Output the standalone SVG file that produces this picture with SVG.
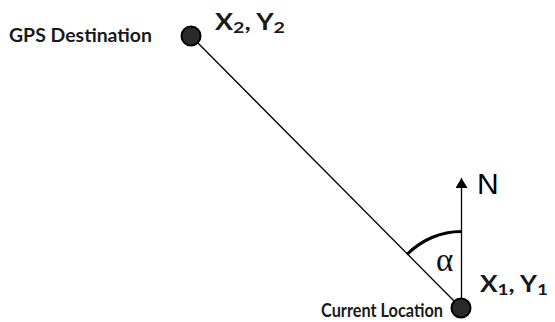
<svg xmlns="http://www.w3.org/2000/svg" width="555" height="322" viewBox="0 0 555 322">
<style>
.lbl{font-family:"Lato","Liberation Sans",sans-serif;font-weight:bold;fill:#1a1a1a}
.pt{fill:#2a2a2a;stroke:#000;stroke-width:2}
.ln{stroke:#000;stroke-width:1.3;fill:none}
</style>
<defs>
<marker id="ah" viewBox="0 0 10 12" refX="10" refY="6" markerWidth="10" markerHeight="12" markerUnits="userSpaceOnUse" orient="auto">
<path d="M0,0 L10,6 L0,12 Z" fill="#000"/>
</marker>
</defs>
<rect width="555" height="322" fill="#fff"/>
<g id="connectors">
<line class="ln" x1="191" y1="36" x2="461" y2="308"/>
<line class="ln" x1="461.5" y1="300" x2="461.5" y2="178" marker-end="url(#ah)"/>
<path d="M407,254.5 A76,76 0 0 1 461.5,231.5" fill="none" stroke="#000" stroke-width="3.2"/>
</g>
<g id="destination">
<circle class="pt" cx="191" cy="36" r="9.5"/>
<text class="lbl" x="9" y="41.7" font-size="18.5" textLength="143" lengthAdjust="spacingAndGlyphs">GPS Destination</text>
<text class="lbl" x="215" y="30" font-size="22" textLength="70" lengthAdjust="spacingAndGlyphs">X<tspan font-size="16" dy="3">2</tspan><tspan dy="-3">, Y</tspan><tspan font-size="16" dy="3">2</tspan></text>
</g>
<g id="current">
<circle class="pt" cx="461" cy="308" r="9.5"/>
<text class="lbl" x="321" y="316.5" font-size="18.5" textLength="122" lengthAdjust="spacingAndGlyphs">Current Location</text>
<text class="lbl" x="480" y="292" font-size="22" textLength="68" lengthAdjust="spacingAndGlyphs">X<tspan font-size="16" dy="3">1</tspan><tspan dy="-3">, Y</tspan><tspan font-size="16" dy="3">1</tspan></text>
</g>
<g id="north">
<text x="477" y="194" font-family="Liberation Sans, sans-serif" font-size="30" fill="#000">N</text>
</g>
<g id="angle">
<text x="436" y="271" font-family="Liberation Serif, serif" font-size="33" fill="#111">α</text>
</g>
</svg>
